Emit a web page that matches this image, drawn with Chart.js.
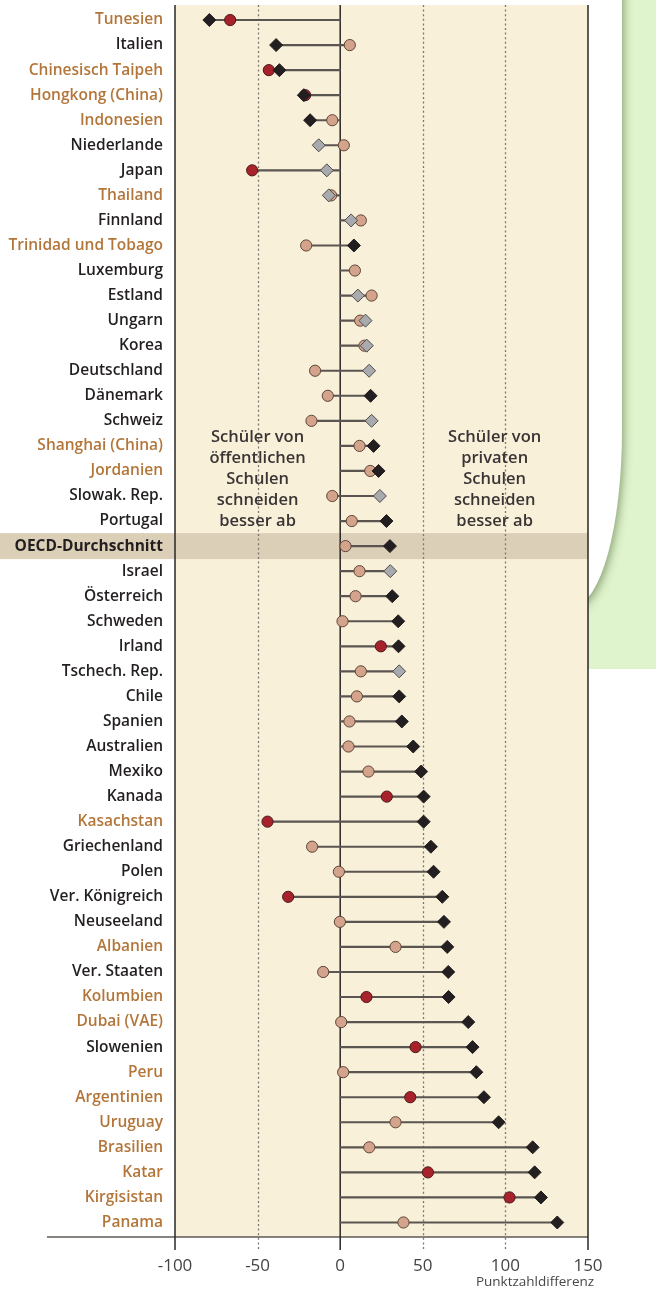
<!DOCTYPE html>
<html>
<head>
<meta charset="utf-8">
<script src="https://cdn.jsdelivr.net/npm/chart.js@4.4.1/dist/chart.umd.min.js"></script>
<style>
  html, body { margin: 0; padding: 0; background: #ffffff; }
  #wrap { width: 656px; height: 1291px; position: relative; }
  canvas { display: block; }
</style>
</head>
<body>
<div id="wrap"><canvas id="c" width="656" height="1291"></canvas></div>
<script>
const countries = [
  "Tunesien", "Italien", "Chinesisch Taipeh", "Hongkong (China)", "Indonesien",
  "Niederlande", "Japan", "Thailand", "Finnland", "Trinidad und Tobago",
  "Luxemburg", "Estland", "Ungarn", "Korea", "Deutschland",
  "Dänemark", "Schweiz", "Shanghai (China)", "Jordanien", "Slowak. Rep.",
  "Portugal", "OECD-Durchschnitt", "Israel", "Österreich", "Schweden",
  "Irland", "Tschech. Rep.", "Chile", "Spanien", "Australien",
  "Mexiko", "Kanada", "Kasachstan", "Griechenland", "Polen",
  "Ver. Königreich", "Neuseeland", "Albanien", "Ver. Staaten", "Kolumbien",
  "Dubai (VAE)", "Slowenien", "Peru", "Argentinien", "Uruguay",
  "Brasilien", "Katar", "Kirgisistan", "Panama"
];
// 1 = partner country (label in brown), 0 = OECD country
const partnerCountry = [
  1,0,1,1,1, 0,0,1,0,1, 0,0,0,0,0, 0,0,1,1,0,
  0,0,0,0,0, 0,0,0,0,0, 0,0,1,0,0, 0,0,1,0,1,
  1,0,1,1,1, 1,1,1,1
];
// Difference before accounting for socio-economic background (diamonds)
const diffBefore = [
  -79.2, -38.8, -36.8, -22.0, -18.2, -13.0, -8.1, -6.9, 6.6, 8.3,
  null, 10.7, 15.3, 16.1, 17.5, 18.4, 19.0, 20.2, 23.2, 24.0,
  28.0, 30.1, 30.3, 31.5, 35.1, 35.3, 35.7, 35.7, 37.3, 44.2,
  49.0, 50.5, 50.5, 54.9, 56.5, 61.8, 62.8, 64.8, 65.4, 65.6,
  77.5, 80.1, 82.4, 87.0, 95.9, 116.5, 117.7, 121.5, 131.4
];
// 1 = significant (black), 0 = not significant (grey)
const diffBeforeSig = [
  1,1,1,1,1, 0,0,0,0,1, 1,0,0,0,0, 1,0,1,1,0,
  1,1,0,1,1, 1,0,1,1,1, 1,1,1,1,1, 1,1,1,1,1,
  1,1,1,1,1, 1,1,1,1
];
// Difference after accounting for socio-economic background (circles)
const diffAfter = [
  -66.6, 5.8, -43.2, -21.2, -4.8, 2.2, -53.3, -5.5, 12.5, -20.6,
  8.9, 19.0, 12.1, 14.7, -15.2, -7.5, -17.4, 11.7, 18.2, -4.8,
  7.0, 3.2, 11.7, 9.3, 1.4, 24.6, 12.5, 10.1, 5.6, 5.0,
  17.1, 28.2, -44.0, -17.0, -0.8, -31.5, -0.2, 33.5, -10.3, 15.9,
  0.6, 45.6, 1.8, 42.4, 33.5, 17.6, 53.1, 102.5, 38.3
];
// 1 = significant (dark red), 0 = not significant (tan)
const diffAfterSig = [
  1,0,1,1,0, 0,1,0,0,0, 0,0,0,0,0, 0,0,0,0,0,
  0,0,0,0,0, 1,0,0,0,0, 0,1,1,0,0, 1,0,0,0,1,
  0,1,0,1,0, 0,1,1,0
];
const xTicks = [-100, -50, 0, 50, 100, 150];
const xTitle = "Punktzahldifferenz";
const leftNote = ["Schüler von", "öffentlichen", "Schulen", "schneiden", "besser ab"];
const rightNote = ["Schüler von", "privaten", "Schulen", "schneiden", "besser ab"];
const oecdIndex = countries.indexOf("OECD-Durchschnitt");

const FONT = "'Open Sans', 'DejaVu Sans', sans-serif";
const C_BROWN = '#b3763a';
const C_DARK = '#231f20';

// spans from 0 to the furthest marker on each side
const spans = countries.map((_, i) => {
  const vals = [0, diffBefore[i], diffAfter[i]].filter(v => v !== null);
  return [Math.min(...vals), Math.max(...vals)];
});

const decorPlugin = {
  id: 'decor',
  beforeDraw(chart) {
    const ctx = chart.ctx;
    const x = chart.scales.x, y = chart.scales.y;
    const L = x.getPixelForValue(-100), R = x.getPixelForValue(150);
    ctx.save();
    ctx.fillStyle = '#ffffff';
    ctx.fillRect(0, 0, chart.width, chart.height);
    // green side panel
    ctx.fillStyle = '#dff3cc';
    ctx.fillRect(R, 0, chart.width - R, 669);
    // white card with rounded corner and shadow
    ctx.save();
    ctx.beginPath();
    ctx.rect(R, 0, chart.width - R, 669);
    ctx.clip();
    ctx.shadowColor = 'rgba(70,100,50,0.55)';
    ctx.shadowBlur = 9;
    ctx.shadowOffsetX = 2;
    ctx.shadowOffsetY = 3;
    ctx.fillStyle = '#ffffff';
    ctx.beginPath();
    ctx.moveTo(400, -20);
    ctx.lineTo(622, -20);
    ctx.lineTo(622, 430);
    ctx.ellipse(574, 430, 48, 175, 0, 0, Math.PI / 2, false);
    ctx.lineTo(400, 605);
    ctx.closePath();
    ctx.fill();
    ctx.restore();
    // beige plot background
    ctx.fillStyle = '#f9f0da';
    ctx.fillRect(L, 5, R - L, 1237 - 5);
    // OECD band
    const oy = y.getPixelForValue(oecdIndex);
    ctx.fillStyle = '#dbcfb7';
    ctx.fillRect(0, oy - 13, R, 26);
    ctx.restore();
  },
  beforeDatasetsDraw(chart) {
    const ctx = chart.ctx;
    const x = chart.scales.x;
    const top = 5, axisY = 1237, tickEnd = 1250;
    ctx.save();
    // dotted reference lines
    ctx.strokeStyle = '#7d7770';
    ctx.lineWidth = 1.3;
    ctx.setLineDash([2, 2.6]);
    [-50, 50, 100].forEach(v => {
      const px = Math.round(x.getPixelForValue(v)) + 0.5;
      ctx.beginPath();
      ctx.moveTo(px, top);
      ctx.lineTo(px, tickEnd);
      ctx.stroke();
    });
    ctx.setLineDash([]);
    // bottom axis line
    ctx.strokeStyle = '#5c5856';
    ctx.lineWidth = 1.5;
    ctx.beginPath();
    ctx.moveTo(47, axisY);
    ctx.lineTo(x.getPixelForValue(150), axisY);
    ctx.stroke();
    // solid lines
    ctx.strokeStyle = '#2a2626';
    ctx.lineWidth = 1.5;
    [-100, 0, 150].forEach(v => {
      const px = x.getPixelForValue(v);
      ctx.beginPath();
      ctx.moveTo(px, top);
      ctx.lineTo(px, tickEnd);
      ctx.stroke();
    });
    ctx.restore();
  },
  afterDraw(chart) {
    const ctx = chart.ctx;
    const x = chart.scales.x;
    ctx.save();
    ctx.fillStyle = '#3a3535';
    ctx.font = '600 16.5px ' + FONT;
    ctx.textAlign = 'center';
    ctx.textBaseline = 'middle';
    const ys = [437, 458, 479, 500, 521];
    const lx = x.getPixelForValue(-50);
    const rx = x.getPixelForValue(93.5);
    leftNote.forEach((t, i) => ctx.fillText(t, lx, ys[i]));
    rightNote.forEach((t, i) => ctx.fillText(t, rx, ys[i]));
    ctx.fillStyle = '#4a4646';
    ctx.font = '400 13.5px ' + FONT;
    ctx.fillText(xTitle, 535, 1282);
    ctx.restore();
  }
};

new Chart(document.getElementById('c'), {
  type: 'bar',
  data: {
    labels: countries,
    datasets: [
      {
        type: 'line',
        indexAxis: 'y',
        label: 'vor Berücksichtigung',
        data: diffBefore,
        showLine: false,
        pointStyle: 'rectRot',
        pointRadius: 6.5,
        pointHoverRadius: 6.5,
        pointBackgroundColor: diffBeforeSig.map(s => s ? '#231f20' : '#a8aaad'),
        pointBorderColor: diffBeforeSig.map(s => s ? '#231f20' : '#4e4c4c'),
        pointBorderWidth: 1,
        order: 0
      },
      {
        type: 'line',
        indexAxis: 'y',
        label: 'nach Berücksichtigung',
        data: diffAfter,
        showLine: false,
        pointStyle: 'circle',
        pointRadius: 5.6,
        pointHoverRadius: 5.6,
        pointBackgroundColor: diffAfterSig.map(s => s ? '#a8222b' : '#d4a38c'),
        pointBorderColor: diffAfterSig.map(s => s ? '#4a1c1c' : '#5e4638'),
        pointBorderWidth: 1,
        order: 1
      },
      {
        type: 'bar',
        indexAxis: 'y',
        label: 'Spanne',
        data: spans,
        backgroundColor: '#5a5551',
        borderWidth: 0,
        barThickness: 1.5,
        order: 2
      }
    ]
  },
  options: {
    indexAxis: 'y',
    responsive: false,
    maintainAspectRatio: false,
    devicePixelRatio: 1,
    animation: false,
    layout: { padding: { top: 7.5, right: 68, left: 0, bottom: 0 } },
    plugins: {
      legend: { display: false },
      tooltip: { enabled: false }
    },
    scales: {
      x: {
        type: 'linear',
        min: -100,
        max: 150,
        afterBuildTicks(scale) { scale.ticks = xTicks.map(v => ({ value: v })); },
        grid: { display: false, drawTicks: false },
        border: { display: false },
        ticks: {
          padding: 21,
          color: '#444',
          font: { family: FONT, size: 17, weight: '400' }
        },
        afterFit(scale) {
          scale.height = 56;
          scale.paddingLeft = 0; scale.paddingRight = 0;
        }
      },
      y: {
        type: 'category',
        offset: true,
        grid: { display: false, drawTicks: false },
        border: { display: false },
        ticks: {
          padding: 12,
          autoSkip: false,
          color: (c) => partnerCountry[c.index] ? C_BROWN : C_DARK,
          font: (c) => ({
            family: FONT,
            size: 15.5,
            weight: c.index === oecdIndex ? '700' : '600'
          })
        },
        afterFit(scale) {
          scale.width = 175;
          scale.paddingTop = 0; scale.paddingBottom = 0;
        }
      }
    }
  },
  plugins: [decorPlugin]
});
</script>
</body>
</html>
